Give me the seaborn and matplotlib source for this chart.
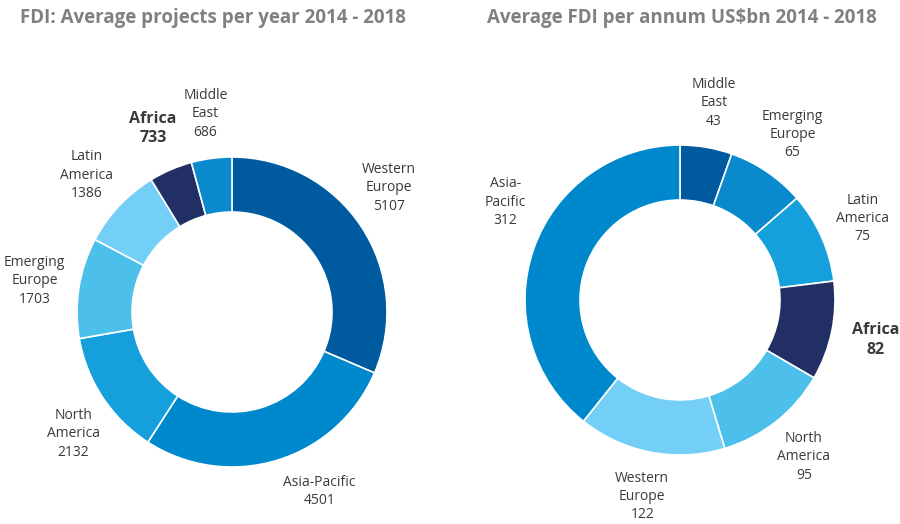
import numpy as np
import seaborn as sns
import matplotlib.pyplot as plt

sns.set_theme(style="white")
plt.rcParams['font.family'] = ['Open Sans', 'DejaVu Sans']

# left chart: average projects per year
proj_regions = ['Western\nEurope', 'Asia-Pacific', 'North\nAmerica', 'Emerging\nEurope',
                'Latin\nAmerica', 'Africa', 'Middle\nEast']
proj_values = [5107, 4501, 2132, 1703, 1386, 733, 686]
proj_colors = ['#005A9F', '#0088CC', '#16A0DB', '#4CBFEB', '#73CFF5', '#212F65', '#0A8ACD']

# right chart: average FDI per annum US$bn
fdi_regions = ['Middle\nEast', 'Emerging\nEurope', 'Latin\nAmerica', 'Africa',
               'North\nAmerica', 'Western\nEurope', 'Asia-\nPacific']
fdi_values = [43, 65, 75, 82, 95, 122, 312]
fdi_colors = ['#005A9F', '#0A8ACD', '#16A0DB', '#212F65', '#4CBFEB', '#73CFF5', '#0088CC']

W, H = 900, 524
R = 155      # donut radius in px
BOX = 420    # axes box in px
lim = BOX / 2 / R


def donut(cx, cy, values, labels, colors, shift=None):
    # shift: small angle tweaks (degrees) for label placement
    shift = shift or {}
    ax = fig.add_axes([(cx - BOX / 2) / W, (H - cy - BOX / 2) / H, BOX / W, BOX / H])
    wedges, _ = ax.pie(values, colors=colors, startangle=90, counterclock=False,
                       wedgeprops=dict(width=0.355, edgecolor='white', linewidth=1.2))
    for w, lab, val in zip(wedges, labels, values):
        ang = np.deg2rad((w.theta1 + w.theta2) / 2 + shift.get(lab, 0))
        x, y = 1.29 * np.cos(ang), 1.29 * np.sin(ang)
        bold = lab == 'Africa'
        ax.text(x, y, f"{lab}\n{val}", ha='center', va='center',
                fontsize=11.5 if bold else 10,
                fontweight='bold' if bold else 'normal',
                color='#3a3a3a', linespacing=1.3)
    ax.set_xlim(-lim, lim)
    ax.set_ylim(-lim, lim)
    ax.set_aspect('equal')
    ax.axis('off')
    return ax


fig = plt.figure(figsize=(9, 5.24), dpi=100)
donut(232, 312, proj_values, proj_regions, proj_colors,
      shift={'Asia-Pacific': 9, 'Western\nEurope': 5, 'North\nAmerica': 4})
donut(680, 300, fdi_values, fdi_regions, fdi_colors, shift={'Asia-\nPacific': -10})

fig.text(20 / W, 1 - 18 / H, 'FDI: Average projects per year 2014 - 2018',
         fontsize=13.5, fontweight='bold', color='#808080', va='center', ha='left')
fig.text(487 / W, 1 - 18 / H, 'Average FDI per annum US$bn 2014 - 2018',
         fontsize=13.5, fontweight='bold', color='#808080', va='center', ha='left')

fig.savefig('out.png', dpi=100)
